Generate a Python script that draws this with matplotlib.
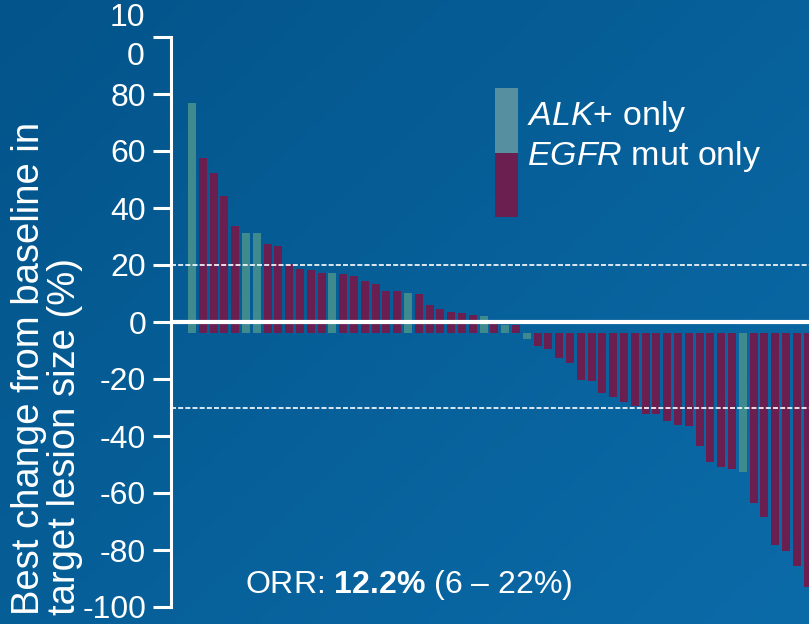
import numpy as np
import matplotlib
matplotlib.use("Agg")
import matplotlib.pyplot as plt
from matplotlib import transforms
from matplotlib.patches import Rectangle
from matplotlib.colors import LinearSegmentedColormap

plt.rcParams['font.family'] = ['Liberation Sans', 'DejaVu Sans']
plt.rcParams['mathtext.fontset'] = 'custom'
plt.rcParams['mathtext.rm'] = 'Liberation Sans'
plt.rcParams['mathtext.it'] = 'Liberation Sans:italic'
plt.rcParams['mathtext.bf'] = 'Liberation Sans:bold'

# best change in target lesion size per patient, sorted
change = [76.8, 57.5, 52.3, 44.2, 33.7, 31.2, 31.2, 27.4, 26.7, 20.4,
          18.6, 18.2, 17.2, 17.2, 16.8, 16.1, 14.4, 13.3, 10.9, 10.9,
          10.2, 9.8, 6.0, 4.6, 3.5, 3.2, 2.5, 2.1, -0.8, -0.9,
          -0.9, -6.0, -8.4, -9.5, -12.6, -14.4, -20.4, -20.7, -24.9, -26.3,
          -28.1, -29.5, -32.3, -32.3, -34.7, -36.1, -36.5, -43.5, -49.1, -50.9,
          -51.6, -52.6, -63.5, -68.4, -78.2, -80.4, -85.6, -93.0]
# 'A' = ALK+ only, 'E' = EGFR mut only
group = list("AEEEEAAEEEEEEAEEEEEEAEEEEEEAEAEA"
             "EEEEEEEEEEEEEEEEEEEAEEEEEE")
baseline = -3.8
yticks = [-100, -80, -60, -40, -20, 0, 20, 40, 60, 80, 100]
ytick_labels = ['-100', '-80', '-60', '-40', '-20', '0', '20', '40', '60', '80', '']
thresholds = [20, -30]

teal = '#3f8a8e'
purple = '#6b1f51'

fig = plt.figure(figsize=(8.09, 6.24), dpi=100)

# slide background
bg = fig.add_axes([0, 0, 1, 1], zorder=-1)
gx, gy = np.meshgrid(np.linspace(0, 1, 200), np.linspace(0, 1, 200))
grad = 0.55 * gx + 0.45 * gy
cmap = LinearSegmentedColormap.from_list('slide', ['#03548a', '#0b6ba8'])
bg.imshow(grad, cmap=cmap, aspect='auto', extent=[0, 1, 0, 1], origin='upper')
bg.axis('off')

ax = fig.add_axes([171 / 809, 17 / 624, 638 / 809, 570 / 624])
ax.set_facecolor('none')

x = np.arange(len(change))
colors = [teal if g == 'A' else purple for g in group]
ax.bar(x, [v - baseline for v in change], bottom=baseline, width=0.74,
       color=colors, zorder=2)

ax.axhline(0, color='white', lw=3, zorder=3)
for t in thresholds:
    ax.axhline(t, color='white', lw=1.2, ls=(0, (3, 1.3)), zorder=3)

ax.set_xlim(-1.94, 57.13)
ax.set_ylim(-100, 100)
for s in ['top', 'right', 'bottom']:
    ax.spines[s].set_visible(False)
ax.spines['left'].set_color('white')
ax.spines['left'].set_linewidth(2.2)
ax.set_xticks([])
ax.set_yticks(yticks)
ax.set_yticklabels(ytick_labels)
ax.tick_params(axis='y', colors='white', labelsize=23, length=13, width=2.2, pad=5)

# the 100 label wraps onto two lines
tr = transforms.blended_transform_factory(ax.transAxes, ax.transData)
ax.text(-0.0408, 106.7, '10', transform=tr, ha='right', va='center',
        color='white', fontsize=23, clip_on=False)
ax.text(-0.0408, 93.0, '0', transform=tr, ha='right', va='center',
        color='white', fontsize=23, clip_on=False)

fig.text(0.058, 0.0144, 'Best change from baseline in\ntarget lesion size (%)',
         rotation=90, ha='center', va='bottom', multialignment='left',
         color='white', fontsize=27.5, linespacing=1.02)

# legend
fig.add_artist(Rectangle((495 / 809, 1 - 153 / 624), 23 / 809, 65 / 624,
                         transform=fig.transFigure, color='#5690a0', lw=0))
fig.add_artist(Rectangle((495 / 809, 1 - 217 / 624), 23 / 809, 64 / 624,
                         transform=fig.transFigure, color=purple, lw=0))
fig.text(527 / 809, 1 - 117 / 624, r'$\it{ALK}$+ only', color='white',
         fontsize=24.5, ha='left', va='center')
fig.text(527 / 809, 1 - 157 / 624, r'$\it{EGFR}$ mut only', color='white',
         fontsize=24.5, ha='left', va='center')

fig.text(245 / 809, 1 - 585 / 624, r'ORR: $\bf{12.2\%}$ (6 – 22%)',
         color='white', fontsize=23, ha='left', va='center')

fig.savefig('out.png', dpi=100)
